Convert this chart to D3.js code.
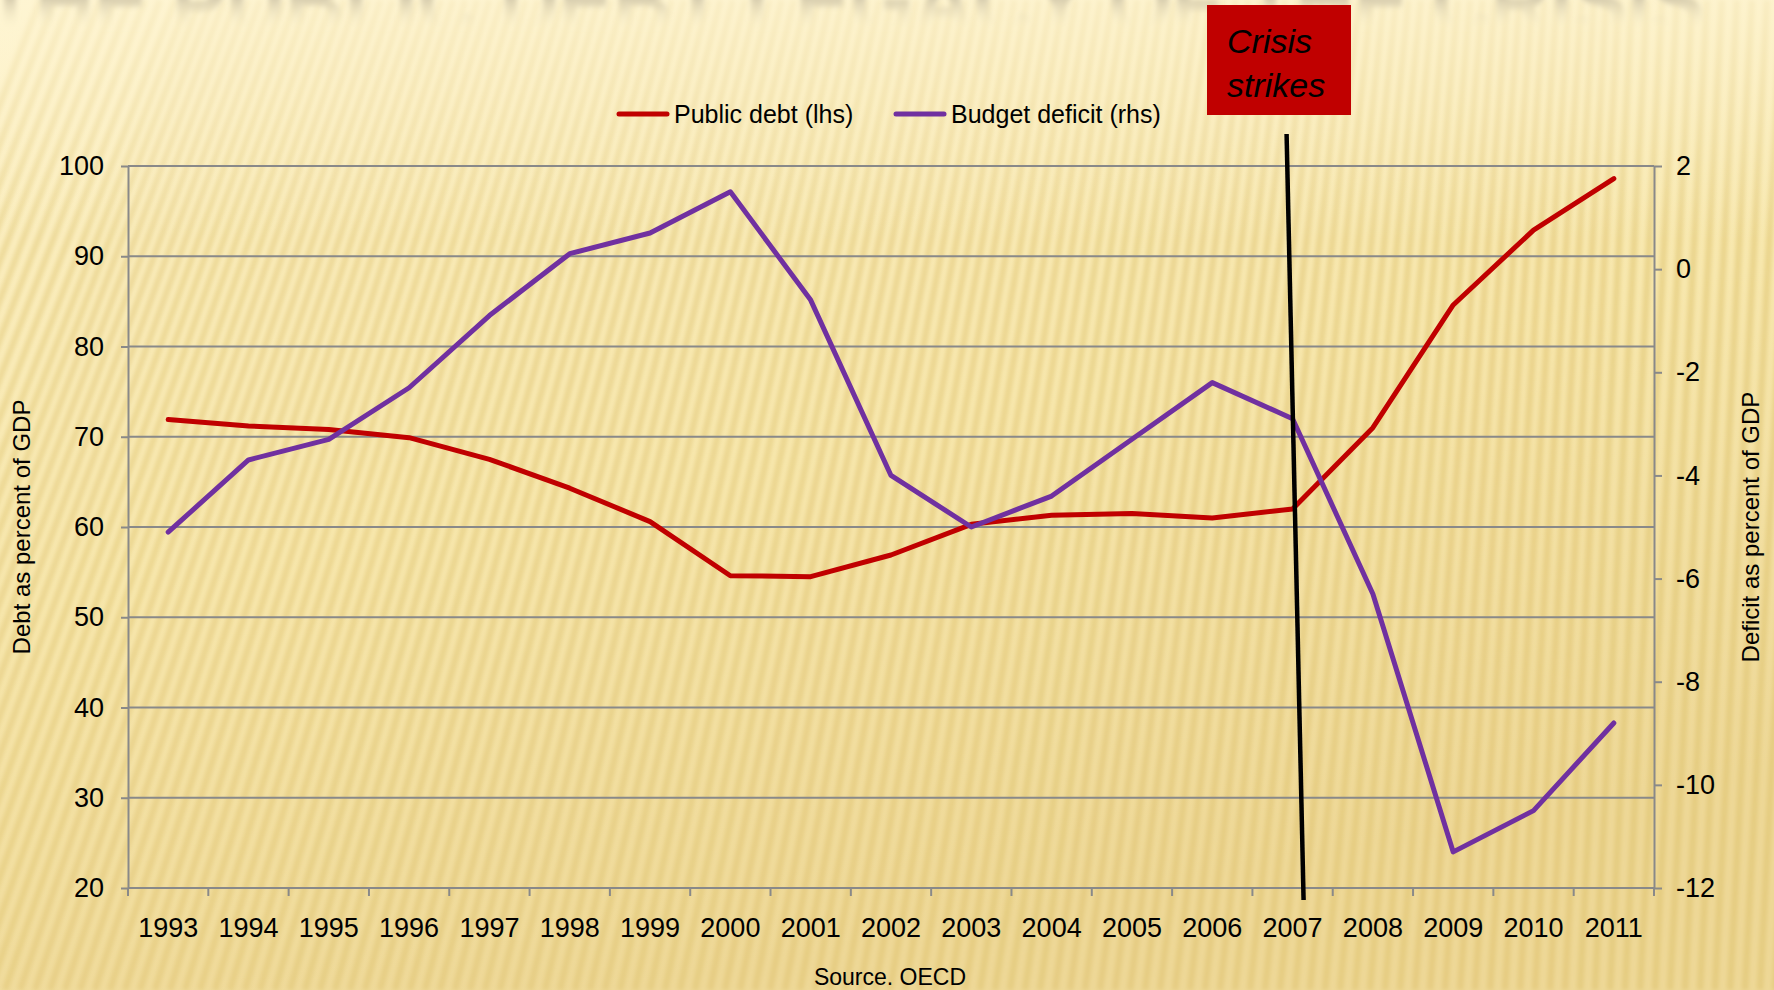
<!DOCTYPE html>
<html>
<head>
<meta charset="utf-8">
<script src="https://cdn.jsdelivr.net/npm/d3@7"></script>
<style>
  html, body { margin: 0; padding: 0; background: #fbeebb; }
  svg { display: block; font-family: "Liberation Sans", Arial, sans-serif; }
</style>
</head>
<body>
<svg id="chart" width="1774" height="990"></svg>
<script>
// data
var years = ["1993","1994","1995","1996","1997","1998","1999","2000","2001","2002",
             "2003","2004","2005","2006","2007","2008","2009","2010","2011"];
var publicDebt = [71.9, 71.2, 70.8, 69.9, 67.5, 64.3, 60.6, 54.6, 54.5, 56.9,
                  60.3, 61.3, 61.5, 61.0, 62.0, 71.0, 84.6, 92.9, 98.6];
var budgetDeficit = [-5.1, -3.7, -3.3, -2.3, -0.9, 0.3, 0.7, 1.5, -0.6, -4.0,
                     -5.0, -4.4, -3.3, -2.2, -2.9, -6.3, -11.3, -10.5, -8.8];
var leftTicks = [20, 30, 40, 50, 60, 70, 80, 90, 100];
var rightTicks = [-12, -10, -8, -6, -4, -2, 0, 2];
var crisisYear = "2007";

var W = 1774, H = 990;
var svg = d3.select("#chart");
var defs = svg.append("defs");

// ---- background ----
var bg = defs.append("linearGradient").attr("id", "bgGrad")
    .attr("x1", 0).attr("y1", 0).attr("x2", 0.35).attr("y2", 1);
bg.append("stop").attr("offset", "0%").attr("stop-color", "#fdf2c9");
bg.append("stop").attr("offset", "55%").attr("stop-color", "#f8e8ae");
bg.append("stop").attr("offset", "100%").attr("stop-color", "#eed897");

defs.append("filter").attr("id", "soft")
    .append("feGaussianBlur").attr("stdDeviation", 2);
defs.append("filter").attr("id", "ghost")
    .append("feGaussianBlur").attr("stdDeviation", 2.5);

var topFade = defs.append("linearGradient").attr("id", "topFade")
    .attr("x1", 0).attr("y1", 0).attr("x2", 0).attr("y2", 1);
topFade.append("stop").attr("offset", "0%").attr("stop-color", "#fff6d6").attr("stop-opacity", 0.7);
topFade.append("stop").attr("offset", "100%").attr("stop-color", "#fff6d6").attr("stop-opacity", 0);

svg.append("rect").attr("width", W).attr("height", H).attr("fill", "url(#bgGrad)");

// diagonal stripes, tilted more on the left, almost upright on the right
var stripes = svg.append("g").attr("filter", "url(#soft)");
d3.range(-340, W + 20, 15).forEach(function (x0) {
    var t = Math.max(0, Math.min(1, (x0 + 200) / W));
    var ang = (21 - 18 * t) * Math.PI / 180;
    stripes.append("line")
        .attr("x1", x0).attr("y1", H)
        .attr("x2", x0 + Math.tan(ang) * H).attr("y2", 0)
        .attr("stroke", "#dcbf6a")
        .attr("stroke-opacity", 0.42 + 0.08 * t)
        .attr("stroke-width", 6.5);
});

svg.append("rect").attr("width", W).attr("height", 240).attr("fill", "url(#topFade)");

// faded slide title, mostly cut off at the top
var ghostGrad = defs.append("linearGradient").attr("id", "ghostGrad")
    .attr("x1", 0).attr("y1", 0).attr("x2", 0).attr("y2", 1);
ghostGrad.append("stop").attr("offset", "0%").attr("stop-color", "#a89e88");
ghostGrad.append("stop").attr("offset", "45%").attr("stop-color", "#cfc5a8");
ghostGrad.append("stop").attr("offset", "75%").attr("stop-color", "#fbf0c8").attr("stop-opacity", 0);

svg.append("text")
    .attr("x", -15).attr("y", 36)
    .attr("textLength", 1720).attr("lengthAdjust", "spacingAndGlyphs")
    .attr("font-size", 100).attr("font-weight", "bold")
    .attr("fill", "url(#ghostGrad)")
    .attr("filter", "url(#ghost)")
    .text("THE PUBLIC DEBT LEGACY OF THE CRISIS");

// ---- chart ----
var margin = {left: 128, right: 1654, top: 166, bottom: 888};
var x = d3.scaleBand().domain(years).range([margin.left, margin.right]);
var yL = d3.scaleLinear().domain([20, 100]).range([margin.bottom, margin.top]);
var yR = d3.scaleLinear().domain([-12, 2]).range([margin.bottom, margin.top]);
var cx = function (i) { return x(years[i]) + x.bandwidth() / 2; };
var plain = function (d) { return String(d); };

var gridColor = "#898989";

// gridlines
svg.append("g").selectAll("line").data(leftTicks).enter().append("line")
    .attr("x1", margin.left).attr("x2", margin.right)
    .attr("y1", function (d) { return yL(d); })
    .attr("y2", function (d) { return yL(d); })
    .attr("stroke", gridColor).attr("stroke-width", 2);

// left axis
var gl = svg.append("g").attr("transform", "translate(" + margin.left + ",0)")
    .call(d3.axisLeft(yL).tickValues(leftTicks).tickFormat(plain)
        .tickSize(7).tickPadding(17).tickSizeOuter(0));
gl.select(".domain").attr("stroke", gridColor).attr("stroke-width", 2);
gl.selectAll(".tick line").attr("stroke", gridColor).attr("stroke-width", 2);
gl.selectAll("text").attr("font-size", 27).attr("fill", "#000")
    .attr("font-family", "'Liberation Sans', Arial, sans-serif");

// right axis
var gr = svg.append("g").attr("transform", "translate(" + margin.right + ",0)")
    .call(d3.axisRight(yR).tickValues(rightTicks).tickFormat(plain)
        .tickSize(8).tickPadding(14).tickSizeOuter(0));
gr.select(".domain").attr("stroke", gridColor).attr("stroke-width", 2);
gr.selectAll(".tick line").attr("stroke", gridColor).attr("stroke-width", 2);
gr.selectAll("text").attr("font-size", 27).attr("fill", "#000")
    .attr("font-family", "'Liberation Sans', Arial, sans-serif");

// bottom axis: labels at band centres, ticks at band edges
var gb = svg.append("g").attr("transform", "translate(0," + margin.bottom + ")")
    .call(d3.axisBottom(x).tickSize(0).tickPadding(30));
gb.select(".domain").remove();
gb.selectAll("text").attr("font-size", 27).attr("fill", "#000")
    .attr("font-family", "'Liberation Sans', Arial, sans-serif");
svg.append("g").selectAll("line").data(years.concat(["end"])).enter().append("line")
    .attr("x1", function (d, i) { return margin.left + i * x.bandwidth(); })
    .attr("x2", function (d, i) { return margin.left + i * x.bandwidth(); })
    .attr("y1", margin.bottom).attr("y2", margin.bottom + 8)
    .attr("stroke", gridColor).attr("stroke-width", 2);

// series
var debtLine = d3.line()
    .x(function (d, i) { return cx(i); })
    .y(function (d) { return yL(d); });
var deficitLine = d3.line()
    .x(function (d, i) { return cx(i); })
    .y(function (d) { return yR(d); });

svg.append("path").datum(publicDebt)
    .attr("fill", "none").attr("stroke", "#c00000").attr("stroke-width", 5)
    .attr("stroke-linejoin", "round").attr("stroke-linecap", "round")
    .attr("d", debtLine);
svg.append("path").datum(budgetDeficit)
    .attr("fill", "none").attr("stroke", "#7030a0").attr("stroke-width", 5)
    .attr("stroke-linejoin", "round").attr("stroke-linecap", "round")
    .attr("d", deficitLine);

// axis titles
svg.append("text")
    .attr("transform", "translate(30," + (margin.top + margin.bottom) / 2 + ") rotate(-90)")
    .attr("text-anchor", "middle").attr("font-size", 24).attr("fill", "#000")
    .text("Debt as percent of GDP");
svg.append("text")
    .attr("transform", "translate(1759," + (margin.top + margin.bottom) / 2 + ") rotate(-90)")
    .attr("text-anchor", "middle").attr("font-size", 24).attr("fill", "#000")
    .text("Deficit as percent of GDP");

svg.append("text")
    .attr("x", 890).attr("y", 985)
    .attr("text-anchor", "middle").attr("font-size", 23).attr("fill", "#000")
    .text("Source. OECD");

// legend
var legend = [
    {label: "Public debt (lhs)", color: "#c00000", x: 617},
    {label: "Budget deficit (rhs)", color: "#7030a0", x: 894}
];
var lg = svg.append("g").selectAll("g").data(legend).enter().append("g")
    .attr("transform", function (d) { return "translate(" + d.x + ",114)"; });
lg.append("line").attr("x1", 2).attr("x2", 50).attr("y1", 0).attr("y2", 0)
    .attr("stroke", function (d) { return d.color; }).attr("stroke-width", 5)
    .attr("stroke-linecap", "round");
lg.append("text").attr("x", 57).attr("y", 9)
    .attr("font-size", 25).attr("fill", "#000")
    .text(function (d) { return d.label; });

// crisis marker
var cxCrisis = x(crisisYear) + x.bandwidth() / 2;
svg.append("line")
    .attr("x1", cxCrisis - 6).attr("y1", 134)
    .attr("x2", cxCrisis + 11).attr("y2", 900)
    .attr("stroke", "#000").attr("stroke-width", 4.5);

svg.append("rect")
    .attr("x", 1207).attr("y", 5).attr("width", 144).attr("height", 110)
    .attr("fill", "#c00000");
svg.append("text")
    .attr("x", 1227).attr("y", 53)
    .attr("font-size", 34).attr("font-style", "italic").attr("fill", "#000")
    .selectAll("tspan").data(["Crisis", "strikes"]).enter().append("tspan")
    .attr("x", 1227).attr("dy", function (d, i) { return i ? 44 : 0; })
    .text(function (d) { return d; });
</script>
</body>
</html>
